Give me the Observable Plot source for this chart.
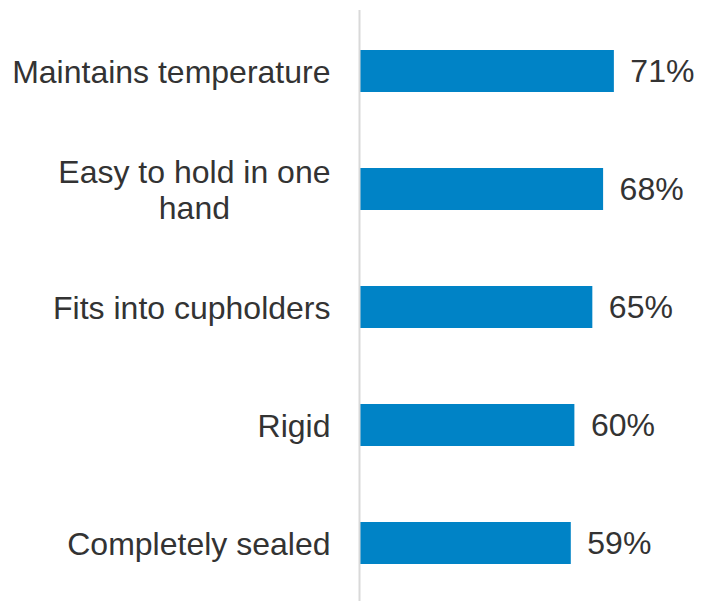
<!DOCTYPE html>
<html>
<head>
<meta charset="utf-8">
<script src="https://cdn.jsdelivr.net/npm/d3@7"></script>
<script src="https://cdn.jsdelivr.net/npm/@observablehq/plot@0.6"></script>
<style>
  html, body { margin: 0; padding: 0; background: #fff; }
  #chart svg { display: block; }
</style>
</head>
<body>
<div id="chart"></div>
<script>
const categories = ["Maintains temperature", "Easy to hold in one hand", "Fits into cupholders", "Rigid", "Completely sealed"];
const categoryLabels = ["Maintains temperature", "Easy to hold in one\nhand", "Fits into cupholders", "Rigid", "Completely sealed"];
const values = [71, 68, 65, 60, 59];
const valueLabels = ["71%", "68%", "65%", "60%", "59%"];

const data = categories.map((c, i) => ({category: c, catLabel: categoryLabels[i], value: values[i], label: valueLabels[i]}));

const font = "'Liberation Sans', Arial, Helvetica, sans-serif";
const textColor = "#333333";

const chart = Plot.plot({
  width: 709,
  height: 601,
  marginLeft: 359,
  marginRight: 0,
  marginTop: 13,
  marginBottom: 1,
  style: {fontFamily: font, background: "#fff"},
  x: {domain: [0, 97.5], axis: null},
  y: {domain: categories, paddingInner: 0.645, paddingOuter: 0.3, axis: null},
  marks: [
    Plot.barX(data, {x: "value", y: "category", fill: "#0083c6"}),
    Plot.ruleX([0], {stroke: "#d9d9d9", strokeWidth: 2, insetTop: -3, insetBottom: -1}),
    Plot.text(data, {
      y: "category", text: "catLabel", frameAnchor: "left", textAnchor: "end",
      dx: -29, fontSize: 32, fill: textColor, lineHeight: 1.12
    }),
    Plot.text(data, {
      x: "value", y: "category", text: "label", textAnchor: "start",
      dx: 16, fontSize: 32, fill: textColor
    })
  ]
});

document.getElementById("chart").appendChild(chart);

// Center-align wrapped category labels (as in the reference)
chart.querySelectorAll("text").forEach(t => {
  const spans = t.querySelectorAll("tspan");
  if (spans.length > 1) {
    let maxW = 0;
    spans.forEach(s => { maxW = Math.max(maxW, s.getComputedTextLength()); });
    t.setAttribute("text-anchor", "middle");
    spans.forEach(s => s.setAttribute("x", -maxW / 2));
  }
});
</script>
</body>
</html>
